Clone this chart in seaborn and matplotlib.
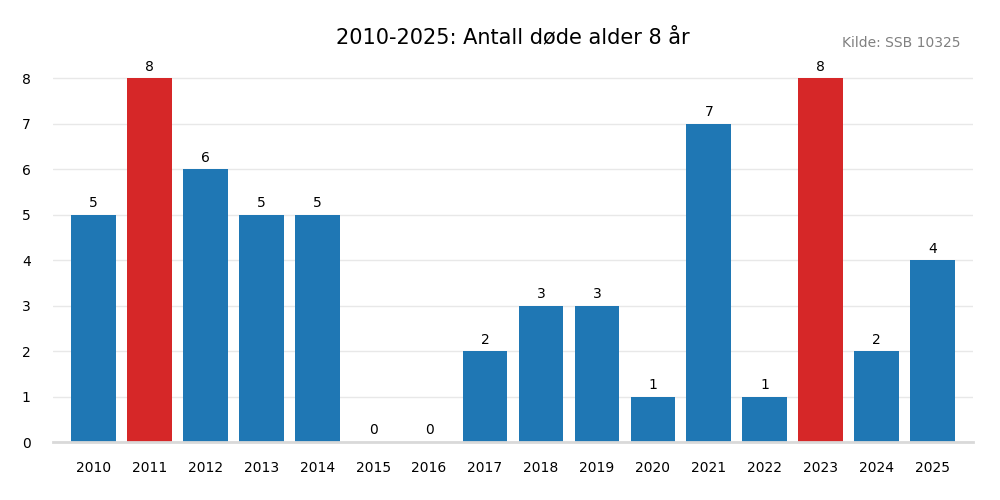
import pandas as pd
import seaborn as sns
import matplotlib.pyplot as plt

years = [str(y) for y in range(2010, 2026)]
deaths = [5, 8, 6, 5, 5, 0, 0, 2, 3, 3, 1, 7, 1, 8, 2, 4]
highlight = ["2011", "2023"]

df = pd.DataFrame({"year": years, "deaths": deaths})
df["group"] = ["max" if y in highlight else "normal" for y in years]

sns.set_style("white")
plt.rcParams["font.family"] = ["DejaVu Sans"]
plt.rcParams["text.color"] = "black"
plt.rcParams["xtick.color"] = "black"
plt.rcParams["ytick.color"] = "black"

fig = plt.figure(figsize=(10, 5), dpi=100)
ax = fig.add_axes([0.053, 0.116, 0.92, 0.764])

sns.barplot(data=df, x="year", y="deaths", hue="group",
            palette={"normal": "#1f77b4", "max": "#d62728"},
            width=0.8, dodge=False, legend=False, saturation=1,
            linewidth=0, ax=ax)

for i, v in enumerate(deaths):
    ax.text(i, v + 0.1, str(v), ha="center", va="bottom", fontsize=10, color="black")

ax.set_xlim(-0.72, 15.72)
ax.set_ylim(0, 8.4)
ax.set_yticks(range(0, 9))
ax.yaxis.grid(True, color="#e8e8e8", linewidth=1)
ax.set_axisbelow(True)
for s in ["top", "right", "left"]:
    ax.spines[s].set_visible(False)
ax.spines["bottom"].set_color("#d9d9d9")
ax.spines["bottom"].set_linewidth(2)
ax.tick_params(axis="both", length=0, labelsize=10)
ax.tick_params(axis="x", pad=14)
ax.tick_params(axis="y", pad=16)
ax.set_xlabel("")
ax.set_ylabel("")

fig.text(0.513, 0.925, "2010-2025: Antall døde alder 8 år", ha="center", va="center", fontsize=15, color="black")
fig.text(0.96, 0.914, "Kilde: SSB 10325", ha="right", va="center", fontsize=10, color="#808080")

fig.savefig("out.png", dpi=100)
